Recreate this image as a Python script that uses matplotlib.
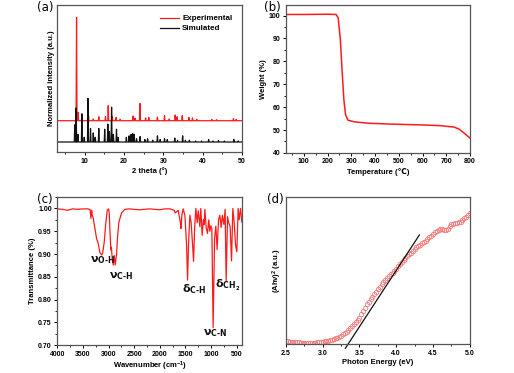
import matplotlib
matplotlib.use("Agg")
import matplotlib.pyplot as plt
import numpy as np
from matplotlib.ticker import MultipleLocator, NullLocator

# (a) XRD: peak positions (2 theta) and peak heights (normalized, arb.)
XRD_BASE_EXP, XRD_BASE_SIM = 0.213, 0.068
xrd_exp_pos = [7.95, 8.35, 9.3, 11.0, 12.2, 13.6, 15.3, 16.0, 17.0, 18.0, 19.0,
               22.3, 22.8, 24.05, 25.5, 26.3, 28.5, 30.3, 31.5, 33.0, 33.5,
               34.8, 36.5, 37.4, 38.5, 42.3, 43.5, 47.8, 48.5]
xrd_exp_h = [0.916, 0.27, 0.24, 0.245, 0.225, 0.24, 0.24, 0.315, 0.245, 0.235, 0.222,
             0.245, 0.23, 0.33, 0.232, 0.235, 0.238, 0.247, 0.225, 0.252, 0.24,
             0.247, 0.235, 0.232, 0.222, 0.222, 0.22, 0.228, 0.222]
xrd_sim_pos = [7.5, 7.85, 8.3, 9.3, 9.9, 10.85, 11.5, 12.2, 12.7, 13.6, 15.1, 15.9,
               16.3, 16.85, 17.3, 18.1, 18.5, 20.6, 21.3, 21.8, 22.2, 22.6, 23.2,
               24.1, 25.3, 26.0, 27.3, 28.5, 29.2, 30.3, 31.0, 32.9, 33.6, 34.9,
               35.6, 36.6, 38.2, 39.7, 41.5, 42.6, 44.0, 45.5, 47.9, 49.0]
xrd_sim_h = [0.185, 0.30, 0.12, 0.26, 0.10, 0.365, 0.16, 0.13, 0.10, 0.16, 0.155, 0.19,
             0.14, 0.305, 0.12, 0.155, 0.10, 0.10, 0.11, 0.12, 0.125, 0.12, 0.09,
             0.105, 0.085, 0.09, 0.08, 0.11, 0.085, 0.09, 0.085, 0.095, 0.08, 0.11,
             0.08, 0.08, 0.075, 0.075, 0.085, 0.075, 0.078, 0.075, 0.085, 0.075]

# (b) TGA
tga_T = [28, 100, 200, 236, 245, 254, 262, 269, 276, 286, 312, 368, 466, 607, 677,
         733, 754, 775, 800]
tga_w = [100.5, 100.5, 100.6, 100.5, 99.0, 89.4, 74.7, 63.0, 56.6, 54.3, 53.6, 53.0,
         52.6, 52.2, 51.9, 51.3, 50.4, 48.7, 46.5]

# (c) FTIR
ir_wn = [4000, 3900, 3800, 3700, 3600, 3500, 3400, 3360, 3344, 3330, 3318, 3300, 3266,
         3234, 3201, 3169, 3136, 3115, 3084, 3058, 3026, 3000, 2987, 2974, 2955, 2945,
         2929, 2909, 2890, 2870, 2844, 2825, 2799, 2747, 2682, 2600, 2500, 2400, 2300,
         2200, 2100, 2000, 1900, 1800, 1720, 1700, 1642, 1600, 1589, 1570, 1544, 1511,
         1478, 1459, 1440, 1414, 1390, 1361, 1342, 1320, 1297, 1271, 1250, 1219, 1200,
         1174, 1150, 1135, 1121, 1096, 1070, 1045, 1024, 1004, 985, 960, 932, 907, 882,
         855, 829, 804, 780, 750, 726, 706, 679, 655, 628, 601, 576, 550, 523, 498, 472,
         453, 425, 400]
ir_T = [0.999, 0.998, 0.996, 0.999, 0.998, 0.999, 0.999, 0.997, 0.978, 0.996, 0.985,
        0.979, 0.956, 0.934, 0.923, 0.903, 0.898, 0.902, 0.927, 0.963, 0.996, 0.999,
        0.99, 0.953, 0.909, 0.915, 0.89, 0.876, 0.897, 0.876, 0.90, 0.936, 0.97, 0.99,
        0.998, 0.999, 0.998, 0.997, 0.998, 0.999, 0.998, 0.997, 0.999, 0.999, 0.996,
        0.99, 0.996, 0.97, 0.956, 0.985, 0.999, 0.985, 0.92, 0.843, 0.92, 0.985, 0.97,
        0.92, 0.884, 0.96, 1.0, 0.969, 0.995, 0.96, 1.0, 0.941, 0.975, 0.965, 0.998,
        0.958, 0.945, 0.975, 0.95, 0.962, 0.955, 0.739, 0.934, 0.961, 0.91, 0.975, 0.985,
        0.958, 0.985, 0.965, 0.998, 0.841, 0.982, 0.968, 0.96, 0.885, 1.0, 0.97, 0.92,
        0.905, 1.0, 0.975, 1.0, 0.97]
ir_labels = [(r"$\mathrm{\nu_{O\text{-}H}}$", 3109, 0.887),
             (r"$\mathrm{\nu_{C\text{-}H}}$", 2745, 0.852),
             (r"$\mathrm{\delta_{C\text{-}H}}$", 1336, 0.823),
             (r"$\mathrm{\nu_{C\text{-}N}}$", 926, 0.727),
             (r"$\mathrm{\delta_{CH_2}}$", 673, 0.832)]

# (d) Tauc plot
tauc_E = [2.5, 2.525, 2.55, 2.575, 2.6, 2.625, 2.65, 2.675, 2.7, 2.725, 2.75, 2.775,
          2.8, 2.825, 2.85, 2.875, 2.9, 2.925, 2.95, 2.975, 3.0, 3.025, 3.05, 3.075,
          3.1, 3.125, 3.15, 3.175, 3.2, 3.225, 3.25, 3.275, 3.3, 3.325, 3.35, 3.375,
          3.4, 3.425, 3.45, 3.475, 3.5, 3.525, 3.55, 3.575, 3.6, 3.625, 3.65, 3.675,
          3.7, 3.725, 3.75, 3.775, 3.8, 3.825, 3.85, 3.875, 3.9, 3.925, 3.95, 3.975,
          4.0, 4.025, 4.05, 4.075, 4.1, 4.125, 4.15, 4.175, 4.2, 4.225, 4.25, 4.275,
          4.3, 4.325, 4.35, 4.375, 4.4, 4.425, 4.45, 4.475, 4.5, 4.525, 4.55, 4.575,
          4.6, 4.625, 4.65, 4.675, 4.7, 4.725, 4.75, 4.775, 4.8, 4.825, 4.85, 4.875,
          4.9, 4.925, 4.95, 4.975, 5.0]
tauc_y = [0.020, 0.019, 0.018, 0.017, 0.016, 0.015, 0.014, 0.013, 0.012, 0.012, 0.011,
          0.011, 0.011, 0.011, 0.011, 0.012, 0.012, 0.013, 0.014, 0.015, 0.017, 0.019,
          0.021, 0.024, 0.027, 0.031, 0.035, 0.040, 0.046, 0.052, 0.059, 0.067, 0.076,
          0.086, 0.097, 0.109, 0.122, 0.136, 0.150, 0.165, 0.181, 0.203, 0.225, 0.248,
          0.270, 0.288, 0.305, 0.322, 0.340, 0.357, 0.373, 0.390, 0.407, 0.421, 0.436,
          0.450, 0.464, 0.476, 0.487, 0.499, 0.512, 0.528, 0.543, 0.558, 0.572, 0.585,
          0.597, 0.610, 0.622, 0.636, 0.648, 0.658, 0.667, 0.676, 0.685, 0.693, 0.700,
          0.715, 0.728, 0.738, 0.748, 0.762, 0.770, 0.775, 0.780, 0.781, 0.778, 0.776,
          0.785, 0.805, 0.817, 0.818, 0.820, 0.822, 0.828, 0.833, 0.845, 0.855, 0.866,
          0.878, 0.893]
fit_E = [3.308, 4.315]
fit_y = [-0.027, 0.742]

RED, INK, FRAME = "#ff1a1a", "#111111", "#555555"
plt.rcParams.update({"font.family": ["Liberation Sans", "DejaVu Sans"],
                     "font.size": 5, "font.weight": "bold",
                     "axes.linewidth": 0.9, "axes.edgecolor": FRAME,
                     "xtick.major.size": 2.5, "ytick.major.size": 2.5,
                     "xtick.minor.size": 1.5, "ytick.minor.size": 1.5,
                     "xtick.major.width": 0.7, "ytick.major.width": 0.7,
                     "xtick.minor.width": 0.6, "ytick.minor.width": 0.6,
                     "xtick.labelsize": 5, "ytick.labelsize": 5,
                     "axes.labelsize": 5.5, "axes.labelweight": "bold",
                     "axes.labelpad": 1.5, "xtick.major.pad": 1.5,
                     "ytick.major.pad": 1.5, "mathtext.default": "regular"})


def peaks_line(pos, h, base, w=0.12):
    xs, ys = [3.0], [base]
    for p, v in zip(pos, h):
        xs += [p - w, p, p + w]
        ys += [base, v, base]
    xs.append(50.0)
    ys.append(base)
    return xs, ys


fig = plt.figure(figsize=(5.14, 3.73), dpi=100)
ax_a = fig.add_axes([0.111, 0.5925, 0.360, 0.394])
ax_b = fig.add_axes([0.5564, 0.590, 0.358, 0.397])
ax_c = fig.add_axes([0.1115, 0.0743, 0.359, 0.3975])
ax_d = fig.add_axes([0.5564, 0.0770, 0.3575, 0.395])

# (a)
x, y = peaks_line(xrd_exp_pos, xrd_exp_h, XRD_BASE_EXP)
ax_a.plot(x, y, color=RED, lw=0.9, label="Experimental")
x, y = peaks_line(xrd_sim_pos, xrd_sim_h, XRD_BASE_SIM)
ax_a.plot(x, y, color=INK, lw=0.9, label="Simulated")
ax_a.set_xlim(3, 50)
ax_a.set_ylim(0, 1)
ax_a.xaxis.set_major_locator(MultipleLocator(10))
ax_a.xaxis.set_minor_locator(MultipleLocator(5))
ax_a.yaxis.set_major_locator(NullLocator())
ax_a.set_xlabel("2 theta (°)")
ax_a.set_ylabel("Normalized intensity (a.u.)")
ax_a.legend(loc="upper right", frameon=False, fontsize=5.8, handlelength=2.3,
            handletextpad=0.4, borderaxespad=0.8, labelspacing=0.3)

# (b)
ax_b.plot(tga_T, tga_w, color=RED, lw=1.1)
ax_b.set_xlim(25, 800)
ax_b.set_ylim(40, 104.7)
ax_b.xaxis.set_major_locator(MultipleLocator(100))
ax_b.xaxis.set_minor_locator(MultipleLocator(50))
ax_b.yaxis.set_major_locator(MultipleLocator(10))
ax_b.yaxis.set_minor_locator(MultipleLocator(5))
ax_b.set_xlabel("Temperature (℃)")
ax_b.set_ylabel("Weight (%)")

# (c)
ax_c.plot(ir_wn, ir_T, color=RED, lw=0.9)
ax_c.set_xlim(4000, 400)
ax_c.set_ylim(0.70, 1.025)
ax_c.xaxis.set_major_locator(MultipleLocator(500))
ax_c.xaxis.set_minor_locator(MultipleLocator(250))
ax_c.yaxis.set_major_locator(MultipleLocator(0.05))
ax_c.yaxis.set_minor_locator(MultipleLocator(0.025))
ax_c.yaxis.set_major_formatter(matplotlib.ticker.FormatStrFormatter("%.2f"))
ax_c.set_xlabel("Wavenumber (cm$^{-1}$)")
ax_c.set_ylabel("Transmittance (%)")
for txt, wx, wy in ir_labels:
    ax_c.text(wx, wy, txt, ha="center", va="center", fontsize=8, color=INK,
              fontweight="normal")

# (d)
ax_d.plot(tauc_E, tauc_y, "o", ms=3.2, mfc="none", mec="#f47c7c", mew=0.6)
ax_d.plot(fit_E, fit_y, color=INK, lw=0.9, clip_on=False)
ax_d.set_xlim(2.5, 5.0)
ax_d.set_ylim(0, 1)
ax_d.xaxis.set_major_locator(MultipleLocator(0.5))
ax_d.xaxis.set_minor_locator(MultipleLocator(0.25))
ax_d.xaxis.set_major_formatter(matplotlib.ticker.FormatStrFormatter("%.1f"))
ax_d.yaxis.set_major_locator(NullLocator())
ax_d.set_xlabel("Photon Energy (eV)")
ax_d.set_ylabel(r"$(Ah\nu)^2$ (a.u.)")

for lab, fx, fy in [("(a)", 0.089, 0.979), ("(b)", 0.529, 0.981),
                    ("(c)", 0.0875, 0.466), ("(d)", 0.536, 0.466)]:
    fig.text(fx, fy, lab, ha="center", va="center", fontsize=8.5,
             fontweight="normal", family="DejaVu Sans")

fig.savefig("out.png", dpi=100)
